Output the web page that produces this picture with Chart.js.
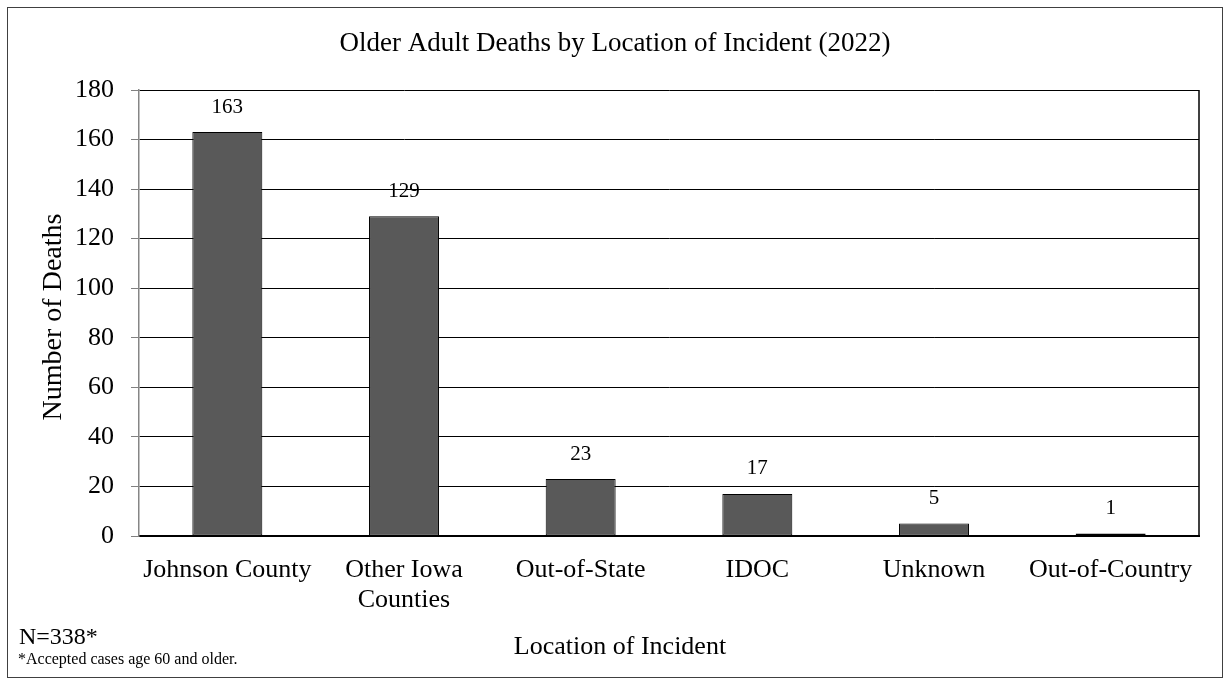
<!DOCTYPE html>
<html>
<head>
<meta charset="utf-8">
<title>Older Adult Deaths by Location of Incident (2022)</title>
<script src="https://cdn.jsdelivr.net/npm/chart.js@4.4.1/dist/chart.umd.min.js"></script>
<style>
  html, body { margin: 0; padding: 0; background: #fff; }
  #wrap { width: 1230px; height: 684px; }
</style>
</head>
<body>
<div id="wrap"><canvas id="deathsChart" width="1230" height="684"></canvas></div>
<script>
// Chart data
const categories = ['Johnson County', ['Other Iowa', 'Counties'], 'Out-of-State', 'IDOC', 'Unknown', 'Out-of-Country'];
const deaths = [163, 129, 23, 17, 5, 1];
const yMax = 180;
const yStep = 20;

const chartTitle = 'Older Adult Deaths by Location of Incident (2022)';
const xTitle = 'Location of Incident';
const yTitle = 'Number of Deaths';
const totalNote = 'N=338*';
const footNote = '*Accepted cases age 60 and older.';

const serif = "'Liberation Serif', 'Times New Roman', serif";

// value labels above each bar
const barLabels = {
    id: 'barLabels',
    afterDatasetsDraw(chart) {
        const ctx = chart.ctx;
        const meta = chart.getDatasetMeta(0);
        ctx.save();
        ctx.font = '21px ' + serif;
        ctx.fillStyle = '#000';
        ctx.textAlign = 'center';
        ctx.textBaseline = 'middle';
        meta.data.forEach(function (bar, i) {
            ctx.fillText(String(deaths[i]), bar.x, bar.y - 25);
        });
        ctx.restore();
    }
};

// title, frame, plot border, axis titles and notes
const extras = {
    id: 'extras',
    afterDraw(chart) {
        const ctx = chart.ctx;
        const area = chart.chartArea;
        ctx.save();
        ctx.strokeStyle = '#000';
        ctx.lineWidth = 1.5;
        ctx.beginPath();
        ctx.moveTo(area.right, area.top);
        ctx.lineTo(area.right, area.bottom);
        ctx.stroke();

        ctx.strokeStyle = '#404040';
        ctx.lineWidth = 1;
        ctx.strokeRect(7.5, 7.5, 1215, 670);

        ctx.fillStyle = '#000';
        ctx.textBaseline = 'middle';
        ctx.textAlign = 'center';
        ctx.font = '27px ' + serif;
        ctx.fillText(chartTitle, 615, 44);

        ctx.font = '26px ' + serif;
        ctx.fillText(xTitle, 620, 647);

        ctx.save();
        ctx.translate(54, 317);
        ctx.rotate(-Math.PI / 2);
        ctx.font = '28px ' + serif;
        ctx.fillText(yTitle, 0, 0);
        ctx.restore();

        ctx.textAlign = 'left';
        ctx.font = '24px ' + serif;
        ctx.fillText(totalNote, 19, 638);
        ctx.font = '16px ' + serif;
        ctx.fillText(footNote, 18, 660);
        ctx.restore();
    }
};

new Chart(document.getElementById('deathsChart'), {
    type: 'bar',
    data: {
        labels: categories,
        datasets: [{
            label: 'Deaths',
            data: deaths,
            backgroundColor: '#595959',
            borderColor: '#000',
            borderWidth: 1,
            borderSkipped: false,
            categoryPercentage: 1,
            barPercentage: 0.396
        }]
    },
    options: {
        responsive: false,
        animation: false,
        devicePixelRatio: 1,
        layout: {
            padding: { left: 0, right: 31, top: 90, bottom: 0 }
        },
        plugins: {
            legend: { display: false },
            tooltip: { enabled: false },
            title: { display: false }
        },
        scales: {
            x: {
                afterFit: function (scale) { scale.height = 148; },
                grid: { display: true, drawOnChartArea: false, drawTicks: false },
                border: { color: '#000', width: 2 },
                ticks: {
                    color: '#000',
                    padding: 19,
                    maxRotation: 0,
                    autoSkip: false,
                    font: { family: serif, size: 26, lineHeight: 1.15 }
                }
            },
            y: {
                min: 0,
                max: yMax,
                afterFit: function (scale) { scale.width = 139; },
                grid: { color: '#000', lineWidth: 1, tickColor: '#808080', tickLength: 8 },
                border: { color: '#868686', width: 1.5 },
                ticks: {
                    stepSize: yStep,
                    color: '#000',
                    padding: 17,
                    font: { family: serif, size: 26 }
                }
            }
        }
    },
    plugins: [barLabels, extras]
});
</script>
</body>
</html>
